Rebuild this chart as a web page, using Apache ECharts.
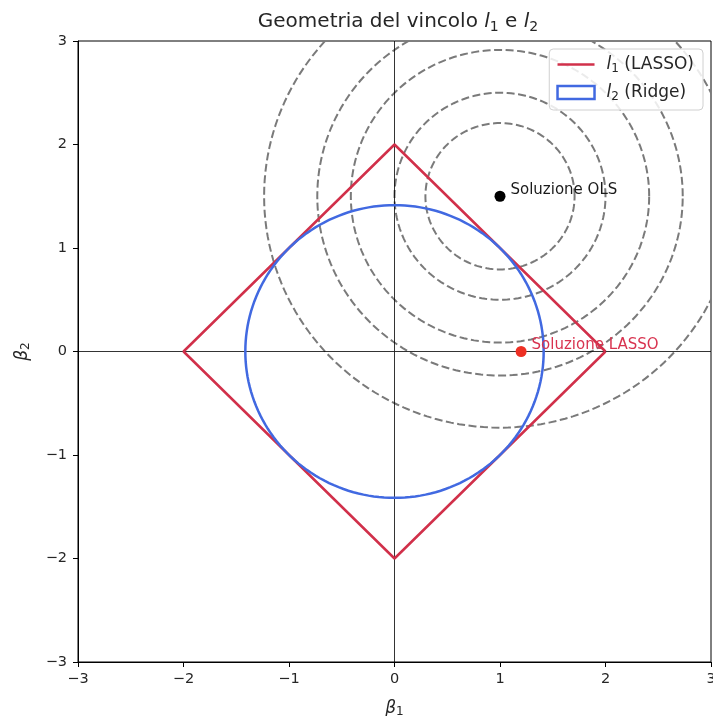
<!DOCTYPE html>
<html>
<head>
<meta charset="utf-8">
<script src="https://cdn.jsdelivr.net/npm/echarts@6/dist/echarts.min.js"></script>
<style>
html,body{margin:0;padding:0;background:#fff;overflow:hidden;}
#chart{width:713px;height:716px;}
</style>
</head>
<body>
<div id="chart"></div>
<script>
// ---- data ----
const axisTicks = [-3, -2, -1, 0, 1, 2, 3];
const lassoX = [2, 0, -2, 0, 2];
const lassoY = [0, 2, 0, -2, 0];
const ridgeCenter = [0, 0];
const ridgeRadius = 1.414;
const olsPoint = [1, 1.5];
const contourRadii = [0.707, 1.0, 1.414, 1.732, 2.236];
const lassoSolution = [1.2, 0];
const zeroLineV = [[0, -3], [0, 3]];
const zeroLineH = [[-3, 0], [3, 0]];
const olsLabel = 'Soluzione OLS';
const lassoLabel = 'Soluzione LASSO';

const FONT = 'DejaVu Sans';
const RED = '#d1304a';
const BLUE = '#4169e1';
const TXT = '#262626';

function fmtTick(v) {
  return v < 0 ? '\u2212' + Math.abs(v) : String(v);
}

function circleRender(center, radius, style) {
  return function (params, api) {
    const pts = [];
    for (let k = 0; k <= 180; k++) {
      const t = (k / 180) * Math.PI * 2;
      pts.push(api.coord([center[0] + radius * Math.cos(t), center[1] + radius * Math.sin(t)]));
    }
    return { type: 'polyline', shape: { points: pts }, style: style, silent: true };
  };
}

const series = [];
contourRadii.forEach(function (r) {
  series.push({
    type: 'custom',
    coordinateSystem: 'cartesian2d',
    clip: true,
    z: 1,
    data: [[olsPoint[0], olsPoint[1]]],
    renderItem: circleRender(olsPoint, r, { stroke: '#7a7a7a', fill: null, lineWidth: 2, lineDash: [8, 3.5] })
  });
});
series.push({
  type: 'line', data: zeroLineV, symbol: 'none', z: 2, silent: true,
  lineStyle: { color: '#000', width: 0.8 }
});
series.push({
  type: 'line', data: zeroLineH, symbol: 'none', z: 2, silent: true,
  lineStyle: { color: '#000', width: 0.8 }
});
series.push({
  name: 'l1 (LASSO)',
  type: 'line',
  data: lassoX.map(function (x, i) { return [x, lassoY[i]]; }),
  symbol: 'none', z: 3,
  lineStyle: { color: RED, width: 2.5 },
  itemStyle: { color: RED }
});
series.push({
  name: 'l2 (Ridge)',
  type: 'custom',
  coordinateSystem: 'cartesian2d',
  clip: true, z: 4,
  data: [[ridgeCenter[0], ridgeCenter[1]]],
  itemStyle: { color: '#fff', borderColor: BLUE, borderWidth: 2.5 },
  renderItem: circleRender(ridgeCenter, ridgeRadius, { stroke: BLUE, fill: null, lineWidth: 2.5 })
});
series.push({
  type: 'scatter', data: [olsPoint], symbolSize: 11, z: 5,
  itemStyle: { color: '#000', opacity: 1 },
  label: {
    show: true, formatter: olsLabel, position: 'right', distance: 5,
    offset: [0, -6], fontFamily: FONT, fontSize: 15, color: '#1a1a1a'
  }
});
series.push({
  type: 'scatter', data: [lassoSolution], symbolSize: 11, z: 5,
  itemStyle: { color: '#ee3024', opacity: 1 },
  label: {
    show: true, formatter: lassoLabel, position: 'right', distance: 5,
    offset: [0, -6], fontFamily: FONT, fontSize: 15, color: '#d8334f'
  }
});

const chart = echarts.init(document.getElementById('chart'), null, { renderer: 'canvas' });
chart.setOption({
  animation: false,
  backgroundColor: '#fff',
  title: {
    text: 'Geometria del vincolo {i|l}{s|1} e {i|l}{s|2}',
    left: 393, top: 5, textAlign: 'center',
    textStyle: {
      fontFamily: FONT, fontSize: 20, fontWeight: 'normal', color: TXT,
      rich: {
        i: { fontFamily: FONT, fontStyle: 'italic', fontSize: 20, color: TXT },
        s: { fontFamily: FONT, fontSize: 14, color: TXT, padding: [10, 0, 0, 0] }
      }
    }
  },
  legend: {
    orient: 'vertical',
    right: 10, top: 49,
    backgroundColor: 'rgba(255,255,255,0.85)',
    borderColor: '#d0d0d0', borderWidth: 1, borderRadius: 4,
    padding: [7, 9, 7, 7],
    itemWidth: 37, itemHeight: 13, itemGap: 9,
    symbolKeepAspect: true,
    data: [
      { name: 'l1 (LASSO)', icon: 'path://M0,0L37,0L37,2.6L0,2.6Z', itemStyle: { color: RED } },
      { name: 'l2 (Ridge)', icon: 'rect', itemStyle: { color: '#fff', borderColor: BLUE, borderWidth: 2.5 } }
    ],
    formatter: function (name) {
      return name.indexOf('LASSO') >= 0 ? '{i|l}{s|1}{t| (LASSO)}' : '{i|l}{s|2}{t| (Ridge)}';
    },
    textStyle: {
      fontFamily: FONT, fontSize: 17, color: TXT,
      rich: {
        i: { fontFamily: FONT, fontStyle: 'italic', fontSize: 17, color: TXT, padding: [0, 0, 0, 7] },
        s: { fontFamily: FONT, fontSize: 12, color: TXT, padding: [9, 0, 0, 0] },
        t: { fontFamily: FONT, fontSize: 17, color: TXT }
      }
    }
  },
  grid: {
    left: 78, right: 2, top: 41, bottom: 54,
    show: true, borderColor: '#000', borderWidth: 1, containLabel: false,
    outerBoundsMode: 'none'
  },
  xAxis: {
    type: 'value', min: axisTicks[0], max: axisTicks[axisTicks.length - 1], interval: 1,
    axisLine: { show: true, onZero: false, lineStyle: { color: '#000', width: 1 } },
    axisTick: { show: true, length: 5, lineStyle: { color: '#000' } },
    splitLine: { show: false },
    axisLabel: { formatter: fmtTick, fontFamily: FONT, fontSize: 14.5, color: TXT, margin: 10 },
    name: '{b|β}{s|1}', nameLocation: 'middle', nameGap: 37,
    nameTextStyle: {
      rich: {
        b: { fontFamily: FONT, fontStyle: 'italic', fontSize: 17, color: TXT },
        s: { fontFamily: FONT, fontSize: 12, color: TXT, padding: [7, 0, 0, 0] }
      }
    }
  },
  yAxis: {
    type: 'value', min: axisTicks[0], max: axisTicks[axisTicks.length - 1], interval: 1,
    axisLine: { show: true, onZero: false, lineStyle: { color: '#000', width: 1 } },
    axisTick: { show: true, length: 5, lineStyle: { color: '#000' } },
    splitLine: { show: false },
    axisLabel: { formatter: fmtTick, fontFamily: FONT, fontSize: 14.5, color: TXT, margin: 11 },
    name: '{b|β}{s|2}', nameLocation: 'middle', nameGap: 46, nameRotate: 90,
    nameTextStyle: {
      rich: {
        b: { fontFamily: FONT, fontStyle: 'italic', fontSize: 17, color: TXT },
        s: { fontFamily: FONT, fontSize: 12, color: TXT, padding: [7, 0, 0, 0] }
      }
    }
  },
  series: series
});
</script>
</body>
</html>
